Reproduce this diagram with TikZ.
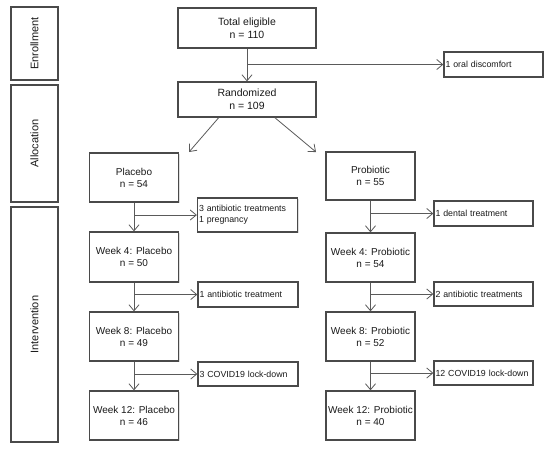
\documentclass[tikz,border=0pt]{standalone}
\usepackage{fontspec}
\setmainfont{Liberation Sans}
\usetikzlibrary{arrows.meta,shadows,calc}
\definecolor{boxgray}{HTML}{4A4A4A}
\definecolor{linegray}{HTML}{5A5A5A}
\definecolor{textdark}{HTML}{1A1A1A}
\begin{document}
\begin{tikzpicture}[x=1pt,y=-1pt,
  basebox/.style={draw=boxgray, line width=1.3pt, fill=white, rectangle, inner sep=0pt, text=textdark,
    drop shadow={shadow xshift=1.3pt, shadow yshift=-1.3pt, opacity=0.25}},
  side/.style={basebox, minimum width=47pt, font=\fontsize{11}{13}\selectfont},
  bigbox/.style={basebox, align=center, minimum width=138pt, font=\fontsize{10.5}{13}\selectfont},
  armbox/.style={basebox, align=center, minimum width=89pt, minimum height=49pt, font=\fontsize{10}{12}\selectfont},
  exbox/.style={basebox, align=left, minimum width=100pt, text width=97pt, inner xsep=1.5pt, font=\fontsize{8.8}{11}\selectfont},
  rexbox/.style={exbox, minimum width=99pt, text width=96pt},
  conn/.style={draw=linegray, line width=0.8pt, -{Straight Barb[length=6pt,width=10pt]}}
]
\useasboundingbox (0,0) rectangle (550,453);

% side labels
\node[side, minimum height=73pt] (enr) at (34.5,43.5) {\rotatebox{90}{Enrollment}};
\node[side, minimum height=117pt] (alloc) at (34.5,143.5) {\rotatebox{90}{Allocation}};
\node[side, minimum height=235pt] (interv) at (34.5,324.5) {\rotatebox{90}{Intervention}};

% top
\node[bigbox, minimum height=40pt] (total) at (247,28) {Total eligible\\n = 110};
\node[bigbox, minimum height=35pt] (rand) at (247,99.5) {Randomized\\n = 109};
\node[rexbox, minimum height=25pt] (oral) at (493.5,64.5) {1 oral discomfort};

% placebo column
\node[armbox] (pla) at (134,177.5) {Placebo\\n = 54};
\node[armbox, minimum height=50pt] (pla4) at (134,257) {Week 4: Placebo\\n = 50};
\node[armbox] (pla8) at (134,336.5) {Week 8: Placebo\\n = 49};
\node[armbox] (pla12) at (134,415.5) {Week 12: Placebo\\n = 46};
\node[exbox, minimum height=34pt] (ep1) at (247.5,215) {3 antibiotic treatments\\1 pregnancy};
\node[exbox, minimum height=25pt] (ep2) at (248,294.5) {1 antibiotic treatment};
\node[exbox, minimum height=24pt] (ep3) at (248,374) {3 COVID19 lock-down};

% probiotic column
\node[armbox, minimum height=48pt] (pro) at (370.5,176) {Probiotic\\n = 55};
\node[armbox] (pro4) at (370.5,257.5) {Week 4: Probiotic\\n = 54};
\node[armbox] (pro8) at (370.5,336.5) {Week 8: Probiotic\\n = 52};
\node[armbox] (pro12) at (370.5,415.5) {Week 12: Probiotic\\n = 40};
\node[rexbox, minimum height=25pt] (er1) at (483.5,213.5) {1 dental treatment};
\node[rexbox, minimum height=24pt] (er2) at (483.5,294) {2 antibiotic treatments};
\node[rexbox, minimum height=24pt] (er3) at (483.5,373) {12 COVID19 lock-down};

% connectors
\draw[conn] (total) -- (rand);
\draw[conn] (total.south |- oral.west) -- (oral.west);

\coordinate (tipL) at (189,152);
\coordinate (tipR) at (316,152);
\draw[conn] ($(rand.south west)!0.297!(rand.south east)$) -- (tipL);
\draw[conn] ($(rand.south west)!0.70!(rand.south east)$) -- (tipR);

\draw[conn] (pla) -- (pla4);
\draw[conn] (pla4) -- (pla8);
\draw[conn] (pla8) -- (pla12);
\draw[conn] (pla.south |- ep1.west) -- (ep1.west);
\draw[conn] (pla.south |- ep2.west) -- (ep2.west);
\draw[conn] (pla.south |- ep3.west) -- (ep3.west);

\draw[conn] (pro) -- (pro4);
\draw[conn] (pro4) -- (pro8);
\draw[conn] (pro8) -- (pro12);
\draw[conn] (pro.south |- er1.west) -- (er1.west);
\draw[conn] (pro.south |- er2.west) -- (er2.west);
\draw[conn] (pro.south |- er3.west) -- (er3.west);
\end{tikzpicture}
\end{document}
